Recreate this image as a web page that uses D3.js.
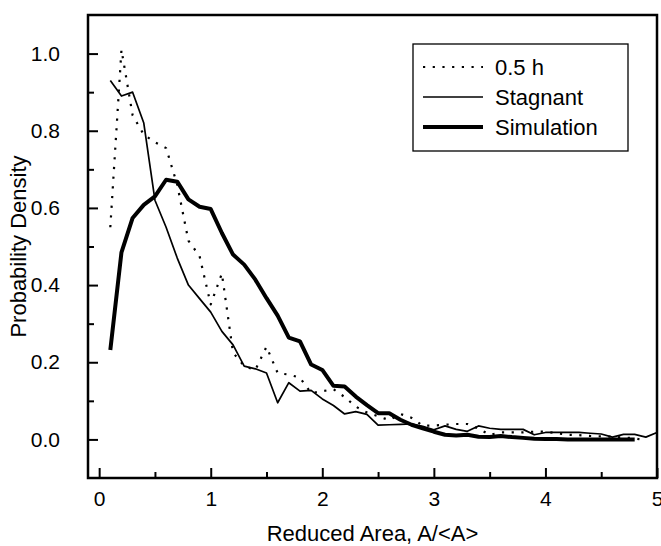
<!DOCTYPE html>
<html>
<head>
<meta charset="utf-8">
<script src="https://cdn.jsdelivr.net/npm/d3@7"></script>
<style>
    body { margin: 0; background: #fff; }
    svg text { font-family: "Liberation Sans", Arial, sans-serif; fill: #000; }
    .domain { display: none; }
    .tick line { stroke: #000; stroke-width: 2; }
</style>
</head>
<body>
<div id="chart"></div>
<script>
// Bin centres of the reduced area, A/<A>
const areaBins = [0.1, 0.2, 0.3, 0.4, 0.5, 0.6, 0.7, 0.8, 0.9, 1.0,
    1.1, 1.2, 1.3, 1.4, 1.5, 1.6, 1.7, 1.8, 1.9, 2.0,
    2.1, 2.2, 2.3, 2.4, 2.5, 2.6, 2.7, 2.8, 2.9, 3.0,
    3.1, 3.2, 3.3, 3.4, 3.5, 3.6, 3.7, 3.8, 3.9, 4.0,
    4.1, 4.2, 4.3, 4.4, 4.5, 4.6, 4.7, 4.8, 4.9, 5.0];

const halfHour = [0.55, 1.01, 0.84, 0.79, 0.77, 0.755, 0.66, 0.515, 0.475, 0.35,
    0.43, 0.225, 0.19, 0.18, 0.24, 0.172, 0.168, 0.16, 0.12, 0.125,
    0.13, 0.11, 0.085, 0.07, 0.06, 0.05, 0.066, 0.056, 0.036, 0.036,
    0.038, 0.04, 0.04, 0.028, 0.012, 0.018, 0.018, 0.018, 0.02, 0.02,
    0.016, 0.012, 0.011, 0.009, 0.008, 0.007, 0.005, 0.003, -0.003];

const stagnant = [0.93, 0.89, 0.90, 0.82, 0.62, 0.55, 0.47, 0.40, 0.365, 0.33,
    0.28, 0.245, 0.19, 0.183, 0.172, 0.095, 0.147, 0.125, 0.127, 0.105,
    0.088, 0.066, 0.072, 0.065, 0.037, 0.038, 0.039, 0.040, 0.034, 0.025,
    0.035, 0.026, 0.021, 0.035, 0.029, 0.026, 0.026, 0.026, 0.012, 0.018,
    0.018, 0.018, 0.018, 0.016, 0.014, 0.006, 0.013, 0.013, 0.006, 0.018];

const simulation = [0.232, 0.485, 0.574, 0.608, 0.63, 0.673, 0.668, 0.622, 0.603, 0.597,
    0.535, 0.479, 0.453, 0.414, 0.366, 0.321, 0.264, 0.254, 0.194, 0.18,
    0.139, 0.137, 0.111, 0.089, 0.068, 0.068, 0.051, 0.038, 0.029, 0.020,
    0.012, 0.010, 0.012, 0.007, 0.006, 0.009, 0.006, 0.004, 0.002, 0.001,
    0.001, 0.0, 0.0, 0.0, 0.0, 0.0, 0.0, 0.0];

const seriesNames = ["0.5 h", "Stagnant", "Simulation"];
const xTicks = [0, 1, 2, 3, 4, 5];
const xMinorTicks = [0.5, 1.5, 2.5, 3.5, 4.5];
const yTicks = [0.0, 0.2, 0.4, 0.6, 0.8, 1.0];
const yMinorTicks = [0.1, 0.3, 0.5, 0.7, 0.9];

const width = 661, height = 546;
const margin = {top: 15, right: 4, bottom: 68, left: 88};
const innerW = width - margin.left - margin.right;
const innerH = height - margin.top - margin.bottom;

const svg = d3.select("#chart").append("svg")
    .attr("width", width)
    .attr("height", height);

const g = svg.append("g")
    .attr("transform", `translate(${margin.left}, ${margin.top})`);

const x = d3.scaleLinear().domain([-0.1, 5]).range([0, innerW]);
const y = d3.scaleLinear().domain([-0.1, 1.1]).range([innerH, 0]);

// Axes with inward ticks
g.append("g")
    .attr("transform", `translate(0, ${innerH})`)
    .call(d3.axisBottom(x).tickValues(xTicks).tickFormat(d3.format("d")).tickSize(-10).tickPadding(13))
    .call(a => a.selectAll("text").style("font-size", "21px"));
g.append("g")
    .attr("transform", `translate(0, ${innerH})`)
    .call(d3.axisBottom(x).tickValues(xMinorTicks).tickFormat("").tickSize(-6));

g.append("g")
    .call(d3.axisLeft(y).tickValues(yTicks).tickFormat(d3.format(".1f")).tickSize(-10).tickPadding(28))
    .call(a => a.selectAll("text").style("font-size", "21px"));
g.append("g")
    .call(d3.axisLeft(y).tickValues(yMinorTicks).tickFormat("").tickSize(-6));

// Series
const line = d3.line()
    .x(d => x(d[0]))
    .y(d => y(d[1]));

const styles = [
    {values: halfHour, width: 2.2, dash: "2.2,7.5"},
    {values: stagnant, width: 1.7, dash: null},
    {values: simulation, width: 4, dash: null}
];

styles.forEach(s => {
    g.append("path")
        .datum(s.values.map((v, i) => [areaBins[i], v]))
        .attr("fill", "none")
        .attr("stroke", "#000")
        .attr("stroke-width", s.width)
        .attr("stroke-linejoin", "round")
        .attr("stroke-dasharray", s.dash)
        .attr("d", line);
});

// Frame
g.append("rect")
    .attr("width", innerW)
    .attr("height", innerH)
    .attr("fill", "none")
    .attr("stroke", "#000")
    .attr("stroke-width", 2.5);

// Legend
const legend = svg.append("g").attr("transform", "translate(413, 44)");
legend.append("rect")
    .attr("width", 215)
    .attr("height", 107)
    .attr("fill", "#fff")
    .attr("stroke", "#000")
    .attr("stroke-width", 1.3);

seriesNames.forEach((name, i) => {
    const row = legend.append("g").attr("transform", `translate(0, ${23 + i * 30})`);
    row.append("line")
        .attr("x1", 10).attr("x2", 70)
        .attr("stroke", "#000")
        .attr("stroke-width", styles[i].width)
        .attr("stroke-dasharray", i === 0 ? "2.2,7.5" : null);
    row.append("text")
        .attr("x", 82)
        .attr("dy", "0.35em")
        .style("font-size", "22px")
        .text(name);
});

// Axis titles
svg.append("text")
    .attr("x", margin.left + innerW / 2)
    .attr("y", 541)
    .attr("text-anchor", "middle")
    .style("font-size", "22px")
    .text("Reduced Area, A/<A>");

svg.append("text")
    .attr("transform", `translate(26, ${margin.top + innerH / 2}) rotate(-90)`)
    .attr("text-anchor", "middle")
    .style("font-size", "22px")
    .text("Probability Density");
</script>
</body>
</html>
